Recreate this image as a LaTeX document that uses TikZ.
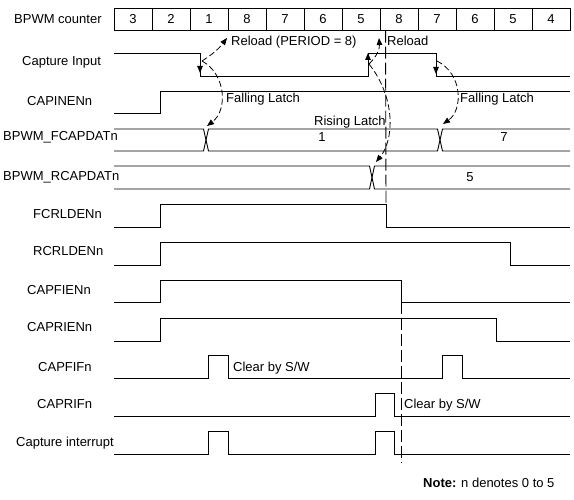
\documentclass[tikz,border=0pt]{standalone}
\usepackage{fontspec}
\setmainfont{Liberation Sans}
\usepackage{tikz}
\usetikzlibrary{arrows.meta, positioning, calc}

\begin{document}
\begin{tikzpicture}[
    x=1pt, y=-1pt,
    every node/.style={font=\fontsize{13}{15}\selectfont},
    cell/.style={rectangle, draw, line width=0.9pt, minimum width=38pt, minimum height=22pt, inner sep=0pt},
    siglabel/.style={anchor=base west, inner sep=0pt},
    note/.style={anchor=base west, inner sep=0pt},
    value/.style={anchor=base, inner sep=0pt},
    sig/.style={line width=0.9pt, line join=miter},
    edgearrow/.style={-{Triangle[length=7pt,width=5.5pt]}, line width=0.9pt},
    latch/.style={-{Triangle[length=7pt,width=5.5pt]}, line width=0.8pt, dash pattern=on 6pt off 3pt},
    guide/.style={line width=0.9pt, dash pattern=on 12pt off 4pt}
]
    \useasboundingbox (0,0) rectangle (574,500);

    % --- Signal names ---
    \node[siglabel] (lbl-cnt)    at (14,23.5)  {BPWM counter};
    \node[siglabel] (lbl-cap)    at (22,65.5)  {Capture Input};
    \node[siglabel] (lbl-capin)  at (27,106)   {CAPINENn};
    \node[siglabel] (lbl-fdat)   at (3,141)    {BPWM\_FCAPDATn};
    \node[siglabel] (lbl-rdat)   at (3,180.5)  {BPWM\_RCAPDATn};
    \node[siglabel] (lbl-frld)   at (33,218.5) {FCRLDENn};
    \node[siglabel] (lbl-rrld)   at (33,256)   {RCRLDENn};
    \node[siglabel] (lbl-fien)   at (27,294.5) {CAPFIENn};
    \node[siglabel] (lbl-rien)   at (27,331.7) {CAPRIENn};
    \node[siglabel] (lbl-fif)    at (38,371.7) {CAPFIFn};
    \node[siglabel] (lbl-rif)    at (37,409)   {CAPRIFn};
    \node[siglabel] (lbl-int)    at (16,446.7) {Capture interrupt};

    % --- BPWM counter ---
    \foreach \v [count=\i] in {3,2,1,8,7,6,5,8,7,6,5,4}
        \node[cell] (c\i) at (95+38*\i,19.3) {\v};

    % --- Capture Input ---
    \draw[sig] (114,53) -- (200,53) -- (200,76) -- (368,76) -- (368,53) -- (436,53) -- (436,76) -- (570,76);
    \draw[edgearrow] (200,53) -- (200,73);
    \draw[edgearrow] (368,76) -- (368,53);
    \draw[edgearrow] (436,53) -- (436,74);
    \coordinate (fall1) at (202,61);
    \coordinate (rise1) at (369,64);
    \coordinate (fall2) at (437,61);

    % --- CAPINENn ---
    \draw[sig] (114,113) -- (160,113) -- (160,91) -- (570,91);

    % --- BPWM_FCAPDATn ---
    \draw[sig] (114,129) -- (203.5,129) -- (208.5,151) -- (437.5,151) -- (442.5,129) -- (570,129);
    \draw[sig] (114,151) -- (203.5,151) -- (208.5,129) -- (437.5,129) -- (442.5,151) -- (570,151);
    \node[value] (fdat-1) at (322,141.5) {1};
    \node[value] (fdat-7) at (504,141.5) {7};
    \coordinate (fx1) at (207,126);
    \coordinate (fx2) at (443,124);

    % --- BPWM_RCAPDATn ---
    \draw[sig] (114,166) -- (369.5,166) -- (374.5,189) -- (570,189);
    \draw[sig] (114,189) -- (369.5,189) -- (374.5,166) -- (570,166);
    \node[value] (rdat-5) at (470,181.5) {5};
    \coordinate (rx1) at (376,162);

    % --- Reload / Enable ---
    \draw[sig] (114,227) -- (160,227) -- (160,204) -- (386,204) -- (386,227) -- (570,227);
    \draw[sig] (114,265) -- (160,265) -- (160,242) -- (510,242) -- (510,265) -- (570,265);
    \draw[sig] (114,302) -- (160,302) -- (160,280) -- (401,280) -- (401,302) -- (570,302);
    \draw[sig] (114,341) -- (160,341) -- (160,318) -- (496,318) -- (496,341) -- (570,341);

    % --- Flags and interrupt ---
    \draw[sig] (114,378) -- (208,378) -- (208,355) -- (228,355) -- (228,378) -- (442,378) -- (442,355) -- (462,355) -- (462,378) -- (570,378);
    \draw[sig] (114,416) -- (375,416) -- (375,393) -- (394,393) -- (394,416) -- (570,416);
    \draw[sig] (114,454) -- (208,454) -- (208,431) -- (228,431) -- (228,454) -- (375,454) -- (375,431) -- (394,431) -- (394,454) -- (570,454);

    % --- Guides ---
    \draw[guide] (c8.south west) ++(6,0) coordinate (g1) -- (386,204);
    \draw[guide] (401,302) -- (401,463);

    % --- Latch arrows ---
    \coordinate (rl1) at (227,38);
    \coordinate (rl2) at (379,38);
    \draw[latch] (fall1) to[bend right=10] (rl1);
    \draw[latch] (fall1) .. controls (226,74) and (228,110) .. (fx1);
    \draw[latch] (rise1) to[bend right=25] (rl2);
    \draw[latch] (rise1) .. controls (396,98) and (394,140) .. (rx1);
    \draw[latch] (fall2) .. controls (463,74) and (463,110) .. (fx2);

    % --- Texts ---
    \node[note] (reload1)  at (231,46)    {Reload (PERIOD = 8)};
    \node[note] (reload2)  at (387,46)    {Reload};
    \node[note] (flatch1)  at (226,103)   {Falling Latch};
    \node[note] (flatch2)  at (460,102.5) {Falling Latch};
    \node[note] (rlatch)   at (314,126)   {Rising Latch};
    \node[note] (clr1)     at (233,371)   {Clear by S/W};
    \node[note] (clr2)     at (404,409)   {Clear by S/W};
    \node[note] (footnote) at (423,487.5) {\textbf{Note:} n denotes 0 to 5};

\end{tikzpicture}
\end{document}
